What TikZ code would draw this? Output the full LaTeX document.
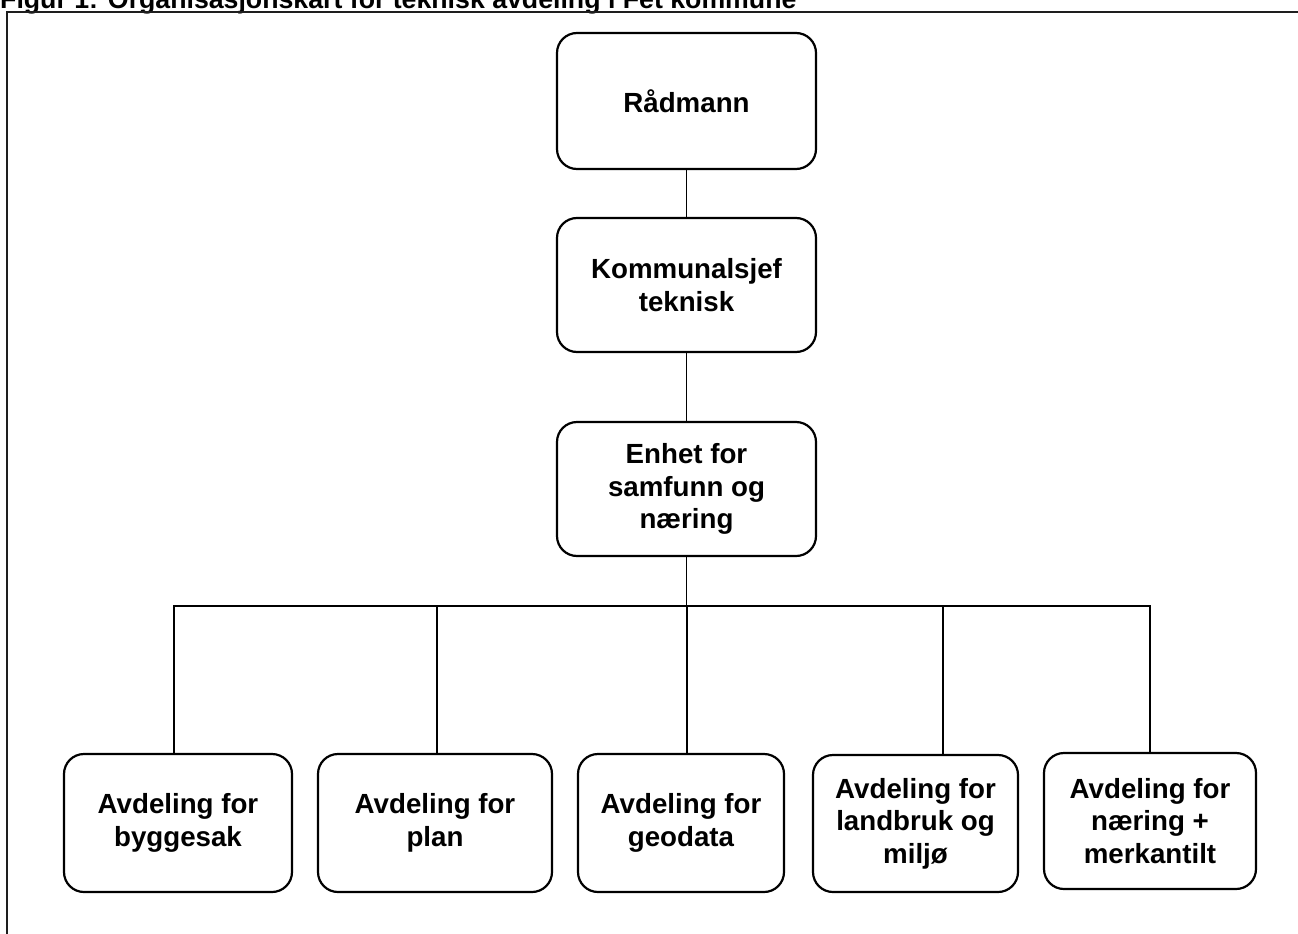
\documentclass[tikz,border=0pt]{standalone}
\usepackage{fontspec}
\setmainfont{Liberation Sans}
\definecolor{orgline}{RGB}{0,0,0}
\definecolor{orgframe}{RGB}{30,30,30}

\begin{document}
\begin{tikzpicture}[x=1pt,y=-1pt,
  unit/.style={draw=orgline,line width=2.2pt,rounded corners=20pt,inner sep=0pt,
    align=center,font=\fontsize{27.7}{32.5}\selectfont\bfseries},
  link/.style={orgline,line width=1.3pt}]
  \useasboundingbox (0,0) rectangle (1298,934);
  % caption, cut at the top edge
  \node[anchor=base west,inner sep=0pt,font=\fontsize{26.7}{30}\selectfont\bfseries]
    (title) at (0,8.5) {Figur 1: Organisasjonskart for teknisk avdeling i Fet kommune};
  \draw[orgframe,line width=2pt] (7,950) -- (7,12) -- (1310,12);
  % top chain
  \node[unit,minimum width=259pt,minimum height=136pt] (rad) at (686.5,101) {Rådmann};
  \node[unit,minimum width=259pt,minimum height=134pt] (kom) at (686.5,285) {Kommunalsjef\\teknisk};
  \node[unit,minimum width=259pt,minimum height=134pt] (enh) at (686.5,489) {Enhet for\\samfunn og\\næring};
  % departments
  \node[unit,minimum width=228pt,minimum height=138pt] (byg) at (178,823) {Avdeling for\\byggesak};
  \node[unit,minimum width=234pt,minimum height=138pt] (plan) at (435,823) {Avdeling for\\plan};
  \node[unit,minimum width=206pt,minimum height=138pt] (geo) at (681,823) {Avdeling for\\geodata};
  \node[unit,minimum width=205pt,minimum height=137pt] (land) at (915.5,823.5) {Avdeling for\\landbruk og\\miljø};
  \node[unit,minimum width=212pt,minimum height=136pt] (naer) at (1150,821) {Avdeling for\\næring +\\merkantilt};
  \coordinate (bus) at (686.5,606);
  \draw[link] (rad) -- (kom);
  \draw[link] (kom) -- (enh);
  \draw[link] (enh) -- (bus);
  \draw[link] (bus) -| ([xshift=-4pt]byg.north);
  \draw[link] (bus) -| ([xshift=2pt]plan.north);
  \draw[link] (bus) -| ([xshift=6pt]geo.north);
  \draw[link] (bus) -| ([xshift=27.5pt]land.north);
  \draw[link] (bus) -| (naer.north);
\end{tikzpicture}
\end{document}
